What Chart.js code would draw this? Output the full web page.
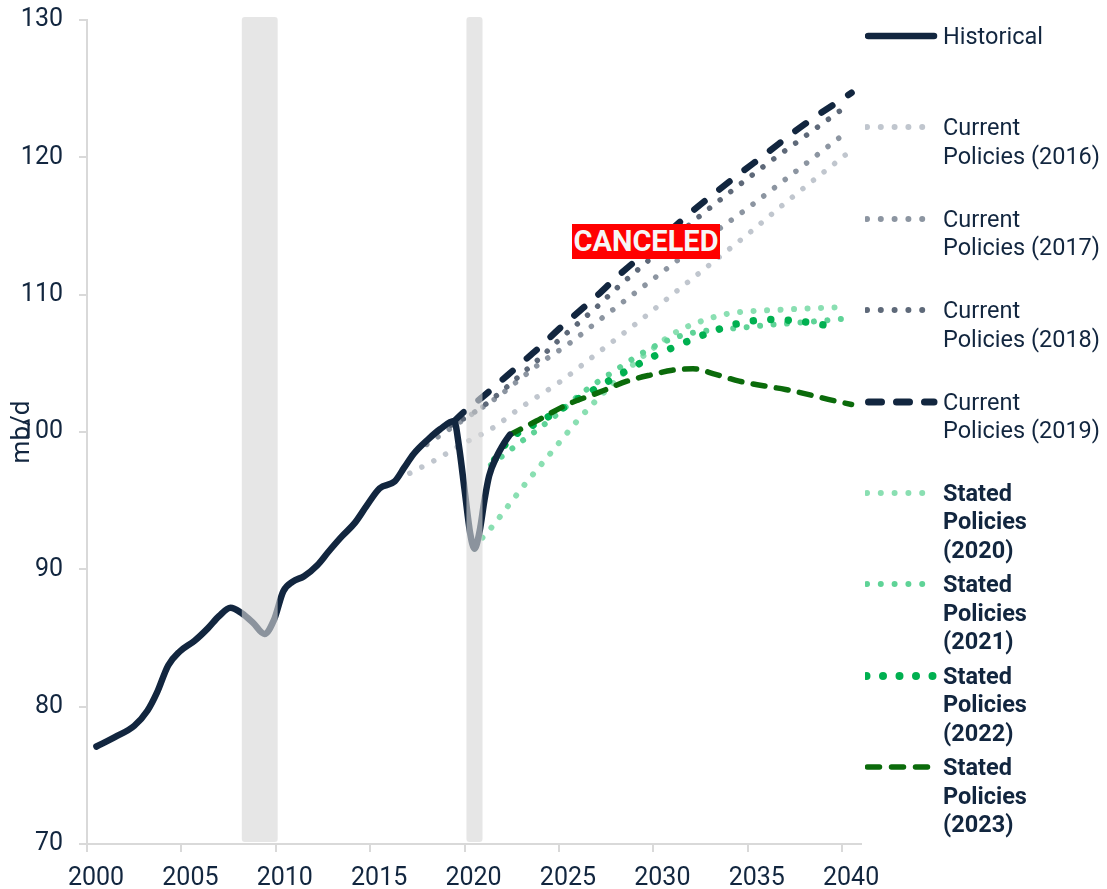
<!DOCTYPE html>
<html lang="en">
<head>
<meta charset="UTF-8">
<title>Oil demand: historical and scenarios</title>
<script src="https://cdn.jsdelivr.net/npm/chart.js@4.4.1/dist/chart.umd.min.js"></script>
<style>
    html, body { margin: 0; padding: 0; background: #fff; }
    body { width: 1107px; height: 889px; position: relative; overflow: hidden; font-family: Roboto, 'Noto Sans', sans-serif; color: #12263f; }
    #chart { position: absolute; left: 0; top: 0; }
    .legend { position: absolute; left: 865px; top: 22px; }
    .item { display: flex; height: 91.4px; align-items: flex-start; }
    .item svg { flex: 0 0 78px; width: 78px; height: 28px; }
    .item span { font-size: 23.5px; line-height: 28.4px; }
    .item.bold span { font-weight: 700; }
    .stamp { position: absolute; left: 572px; top: 224px; width: 148px; height: 35px; background: #ff0000; color: #f6f6f6;
             font: 700 29px Roboto, sans-serif; line-height: 35px; text-align: center; white-space: nowrap; }
</style>
</head>
<body>
<canvas id="chart" width="1107" height="889"></canvas>

<div class="legend">
    <div class="item"><svg><line x1="3" y1="14" x2="69" y2="14" stroke="#12263f" stroke-width="6.5" stroke-linecap="round"/></svg><span>Historical</span></div>
    <div class="item"><svg><line x1="2" y1="14" x2="60" y2="14" stroke="#c0c6ce" stroke-width="6" stroke-linecap="round" stroke-dasharray="0 13.8"/></svg><span>Current<br>Policies (2016)</span></div>
    <div class="item"><svg><line x1="2" y1="14" x2="60" y2="14" stroke="#8c95a1" stroke-width="6" stroke-linecap="round" stroke-dasharray="0 13.8"/></svg><span>Current<br>Policies (2017)</span></div>
    <div class="item"><svg><line x1="2" y1="14" x2="60" y2="14" stroke="#5e6979" stroke-width="6" stroke-linecap="round" stroke-dasharray="0 13.8"/></svg><span>Current<br>Policies (2018)</span></div>
    <div class="item"><svg><line x1="3.5" y1="14" x2="69" y2="14" stroke="#12263f" stroke-width="7" stroke-linecap="round" stroke-dasharray="13 15"/></svg><span>Current<br>Policies (2019)</span></div>
    <div class="item bold"><svg><line x1="2" y1="14" x2="60" y2="14" stroke="#8adfb2" stroke-width="6" stroke-linecap="round" stroke-dasharray="0 13.8"/></svg><span>Stated<br>Policies<br>(2020)</span></div>
    <div class="item bold"><svg><line x1="2" y1="14" x2="60" y2="14" stroke="#5fd397" stroke-width="6" stroke-linecap="round" stroke-dasharray="0 13.8"/></svg><span>Stated<br>Policies<br>(2021)</span></div>
    <div class="item bold"><svg><line x1="1.5" y1="14" x2="70" y2="14" stroke="#00b050" stroke-width="8" stroke-linecap="round" stroke-dasharray="0 16.5"/></svg><span>Stated<br>Policies<br>(2022)</span></div>
    <div class="item bold"><svg><line x1="2.5" y1="14" x2="65" y2="14" stroke="#0b6b0b" stroke-width="5.5" stroke-linecap="round" stroke-dasharray="12 12"/></svg><span>Stated<br>Policies<br>(2023)</span></div>
</div>

<div class="stamp">CANCELED</div>

<script>
    // axis
    const xTicks = [2000, 2005, 2010, 2015, 2020, 2025, 2030, 2035, 2040];
    const recessionStart = [2008.2, 2020.1];
    const recessionEnd = [2010.1, 2020.95];

    // Historical (mb/d)
    const histYears = [2000.5, 2001.5, 2002.5, 2003.2, 2003.7, 2004.3, 2004.9, 2005.7, 2006.4, 2007.0, 2007.6,
        2008.2, 2008.8, 2009.4, 2009.9, 2010.4, 2010.9, 2011.5, 2012.2, 2012.8, 2013.5, 2014.2, 2014.8,
        2015.5, 2016.3, 2016.8, 2017.3, 2018.1, 2018.7, 2019.45, 2019.7, 2020.0, 2020.3, 2020.53, 2020.8,
        2021.05, 2021.3, 2021.7, 2022.1, 2022.4];
    const histValues = [77.1, 77.8, 78.6, 79.7, 81.0, 83.0, 84.0, 84.8, 85.7, 86.6, 87.2,
        86.8, 86.1, 85.3, 86.3, 88.4, 89.1, 89.5, 90.3, 91.3, 92.4, 93.4, 94.6,
        95.9, 96.4, 97.4, 98.4, 99.5, 100.2, 100.8, 99.0, 95.8, 92.6, 91.5, 92.8,
        95.0, 96.8, 98.2, 99.2, 99.8];

    // Current Policies scenarios
    const cp2016Years = [2017.1, 2018.5, 2020, 2021.5, 2023, 2025, 2027, 2029, 2031, 2033, 2035, 2037, 2040.2];
    const cp2016Values = [97.0, 98.0, 99.2, 100.3, 101.8, 103.6, 105.7, 107.8, 110.0, 112.2, 114.4, 116.7, 120.2];

    const cp2017Years = [2018.0, 2019.3, 2020.5, 2021.7, 2022.8, 2024, 2025.5, 2027, 2029, 2031, 2033, 2035, 2037, 2040.3];
    const cp2017Values = [99.1, 100.3, 101.4, 102.5, 103.7, 105.0, 106.4, 108.0, 110.1, 112.2, 114.3, 116.3, 118.4, 121.9];

    const cp2018Years = [2019.3, 2020, 2021, 2022, 2023, 2024, 2025, 2026, 2027, 2028, 2029, 2030, 2031, 2032, 2034, 2036, 2038, 2040.2];
    const cp2018Values = [100.5, 101.0, 101.9, 103.0, 104.2, 105.4, 106.7, 107.9, 109.1, 110.4, 111.6, 112.8, 114.0, 115.2, 117.4, 119.5, 121.5, 123.7];

    const cp2019Years = [2019.45, 2020, 2021, 2022, 2023, 2024, 2025, 2026, 2027, 2028, 2029, 2030, 2031, 2032, 2034, 2036, 2038, 2040.5];
    const cp2019Values = [100.8, 101.5, 102.6, 103.8, 105.0, 106.2, 107.5, 108.7, 109.9, 111.2, 112.4, 113.6, 114.8, 116.0, 118.2, 120.3, 122.4, 124.7];

    // Stated Policies scenarios
    const sp2020Years = [2020.53, 2021.0, 2021.4, 2022.3, 2023.2, 2024.1, 2025.0, 2025.9, 2026.9, 2028.0, 2029.0, 2030.0, 2031.1, 2032.4, 2033.9, 2035.2, 2036.7, 2038.2, 2040.3];
    const sp2020Values = [91.5, 92.4, 93.0, 94.6, 96.2, 97.7, 99.2, 100.7, 102.2, 103.7, 105.0, 106.1, 107.2, 108.0, 108.6, 108.8, 108.9, 109.0, 109.1];

    const sp2021Years = [2021.4, 2022.05, 2023, 2023.8, 2025, 2026, 2027, 2028, 2029, 2030, 2031, 2032, 2033, 2034.7, 2036.1, 2037.6, 2038.9, 2040.5];
    const sp2021Values = [97.6, 98.3, 99.3, 100.1, 101.4, 102.6, 103.6, 104.5, 105.4, 106.2, 106.8, 107.2, 107.4, 107.6, 107.8, 107.95, 108.1, 108.3];

    const sp2022Years = [2021.6, 2022.4, 2023.5, 2024.8, 2026, 2027, 2028.5, 2030, 2031.3, 2032.9, 2034.5, 2036.3, 2038.1, 2039.8];
    const sp2022Values = [98.0, 99.5, 100.4, 101.4, 102.4, 103.2, 104.4, 105.5, 106.3, 107.2, 107.9, 108.2, 108.0, 107.6];

    const sp2023Years = [2022.4, 2023.8, 2025.45, 2027.15, 2028.6, 2030.0, 2031.0, 2032.1, 2033.3, 2034.55, 2035.9, 2037.0, 2038.3, 2039.5, 2040.5];
    const sp2023Values = [99.8, 100.8, 102.0, 102.9, 103.7, 104.2, 104.5, 104.6, 104.2, 103.7, 103.35, 103.1, 102.7, 102.3, 102.0];

    const NAVY = '#12263f';
    const pts = (xs, ys) => xs.map((x, i) => ({x: x, y: ys[i]}));

    function dotted(label, xs, ys, color, size, gap) {
        return { label, data: pts(xs, ys), borderColor: color, borderWidth: size,
                 borderDash: [0.01, gap], borderCapStyle: 'round' };
    }

    // grey recession bands, drawn over the lines so they fade inside
    const bandsPlugin = {
        id: 'bands',
        afterDatasetsDraw(chart) {
            const {ctx, chartArea} = chart;
            const xs = chart.scales.x;
            ctx.save();
            for (let i = 0; i < recessionStart.length; i++) {
                const x1 = xs.getPixelForValue(recessionStart[i]);
                const x2 = xs.getPixelForValue(recessionEnd[i]);
                ctx.fillStyle = 'rgba(214,214,214,0.62)';
                ctx.beginPath();
                ctx.roundRect(x1, chartArea.top - 3, x2 - x1, chartArea.bottom - chartArea.top + 1, 3);
                ctx.fill();
            }
            ctx.restore();
        }
    };

    const yTitlePlugin = {
        id: 'yTitle',
        afterDraw(chart) {
            const {ctx, chartArea} = chart;
            ctx.save();
            ctx.translate(22, (chartArea.top + chartArea.bottom) / 2);
            ctx.rotate(-Math.PI / 2);
            ctx.font = '26px Roboto';
            ctx.fillStyle = NAVY;
            ctx.textAlign = 'center';
            ctx.textBaseline = 'middle';
            ctx.fillText('mb/d', 0, 0);
            ctx.restore();
        }
    };

    const axisGrid = { drawOnChartArea: false, drawTicks: true, tickLength: 8, color: '#d9d9d9', lineWidth: 2 };
    const axisBorder = { display: true, color: '#d9d9d9', width: 2 };

    new Chart(document.getElementById('chart'), {
        type: 'line',
        data: {
            datasets: [
                { label: 'Historical', data: pts(histYears, histValues), borderColor: NAVY, borderWidth: 6.5, borderCapStyle: 'round' },
                { label: 'Current Policies (2019)', data: pts(cp2019Years, cp2019Values), borderColor: NAVY, borderWidth: 6.5,
                  borderDash: [13, 19], borderCapStyle: 'round' },
                { label: 'Stated Policies (2023)', data: pts(sp2023Years, sp2023Values), borderColor: '#0b6b0b', borderWidth: 5.5,
                  borderDash: [12, 11.5], borderCapStyle: 'round' },
                dotted('Stated Policies (2022)', sp2022Years, sp2022Values, '#00b050', 7.5, 17.5),
                dotted('Stated Policies (2021)', sp2021Years, sp2021Values, '#5fd397', 6, 13.5),
                dotted('Stated Policies (2020)', sp2020Years, sp2020Values, '#8adfb2', 6, 13.5),
                dotted('Current Policies (2018)', cp2018Years, cp2018Values, '#5e6979', 5.5, 13.5),
                dotted('Current Policies (2017)', cp2017Years, cp2017Values, '#8c95a1', 5.5, 13.5),
                dotted('Current Policies (2016)', cp2016Years, cp2016Values, '#c0c6ce', 5.5, 13.5)
            ]
        },
        options: {
            responsive: false,
            devicePixelRatio: 1,
            animation: false,
            layout: { padding: { top: 20, right: 246, left: 0, bottom: 0 } },
            elements: {
                point: { radius: 0 },
                line: { cubicInterpolationMode: 'monotone', fill: false }
            },
            plugins: { legend: { display: false }, tooltip: { enabled: false } },
            scales: {
                x: {
                    type: 'linear', min: 2000, max: 2041,
                    afterBuildTicks: axis => { axis.ticks = xTicks.map(v => ({value: v})); },
                    afterFit: s => { s.height = 45; s.paddingLeft = 0; s.paddingRight = 0; },
                    grid: axisGrid, border: axisBorder,
                    ticks: { color: NAVY, font: { family: 'Roboto', size: 25 }, padding: 12, labelOffset: 9, maxRotation: 0,
                             callback: v => String(v) }
                },
                y: {
                    min: 70, max: 130,
                    afterFit: s => { s.width = 87; s.paddingTop = 0; s.paddingBottom = 0; },
                    grid: axisGrid, border: axisBorder,
                    ticks: { stepSize: 10, color: NAVY, font: { family: 'Roboto', size: 25 }, padding: 16 }
                }
            }
        },
        plugins: [bandsPlugin, yTitlePlugin]
    });
</script>
</body>
</html>
